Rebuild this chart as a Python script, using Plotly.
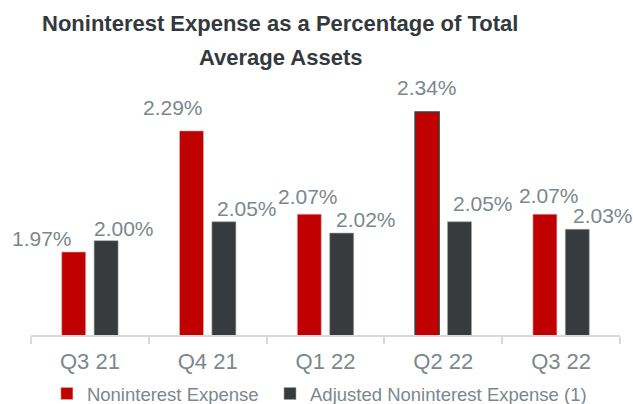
import plotly.graph_objects as go

quarters = ["Q3 21", "Q4 21", "Q1 22", "Q2 22", "Q3 22"]
nonint_expense = [1.97, 2.29, 2.07, 2.34, 2.07]
adj_nonint_expense = [2.00, 2.05, 2.02, 2.05, 2.03]

RED = "#C00000"
DARK = "#373B3E"
LABEL_GRAY = "#7C878E"
TITLE_GRAY = "#33393C"
FONT = "Liberation Sans, Arial, sans-serif"

# label placement (pixel offsets from category centre / bar top)
red_dx = [-48, -35, -18, -16, -12]
red_dy = [0, 10, 4, 11, 5]
gray_dx = [34, 39, 40, 40, 42]
gray_dy = [-1, 0, 0, 5, 0]

fig = go.Figure()
fig.add_trace(go.Bar(
    x=quarters, y=nonint_expense, name="Noninterest Expense", legend="legend",
    marker=dict(color=RED,
                line=dict(color=["#E8B0B0", "#E8B0B0", "#E8B0B0", "#3A3A3A", "#E8B0B0"],
                          width=[0.6, 0.6, 0.6, 1.5, 0.6])),
))
fig.add_trace(go.Bar(
    x=quarters, y=adj_nonint_expense, name="Adjusted Noninterest Expense (1)", legend="legend2",
    marker=dict(color=DARK, line=dict(color="#A0A4A6", width=0.6)),
))

for i, q in enumerate(quarters):
    fig.add_annotation(x=q, y=nonint_expense[i], text=f"{nonint_expense[i]:.2f}%",
                       showarrow=False, xshift=red_dx[i], yshift=red_dy[i],
                       yanchor="bottom", font=dict(size=21, color=LABEL_GRAY, family=FONT))
    fig.add_annotation(x=q, y=adj_nonint_expense[i], text=f"{adj_nonint_expense[i]:.2f}%",
                       showarrow=False, xshift=gray_dx[i], yshift=gray_dy[i],
                       yanchor="bottom", font=dict(size=21, color=LABEL_GRAY, family=FONT))

# two-line chart heading
title_lines = ["Noninterest Expense as a Percentage of Total", "Average Assets"]
for line, ypos in zip(title_lines, [1.1736, 1.0453]):
    fig.add_annotation(xref="paper", yref="paper", x=0.4228, y=ypos, text=f"<b>{line}</b>",
                       showarrow=False, xanchor="center", yanchor="middle",
                       font=dict(size=22, color=TITLE_GRAY, family=FONT))

legend_style = dict(orientation="h", xanchor="left", y=-0.2226, yanchor="middle",
                    font=dict(size=18.5, color=LABEL_GRAY, family=FONT),
                    itemwidth=30, bgcolor="rgba(0,0,0,0)")

fig.update_layout(
    width=633, height=404,
    margin=dict(l=31, r=13, t=70, b=69, autoexpand=False),
    paper_bgcolor="white", plot_bgcolor="white",
    barmode="group", bargap=0.45, bargroupgap=0.26,
    font=dict(family=FONT),
    showlegend=True,
    legend=dict(x=0.027, **legend_style),
    legend2=dict(x=0.4058, **legend_style),
    xaxis=dict(range=[-0.5, 4.5], automargin=False, showline=True, linecolor="#D9D9D9", linewidth=2,
               ticks="outside", tickson="boundaries", ticklen=7, tickcolor="#D9D9D9", tickwidth=2,
               ticklabelstandoff=6,
               tickfont=dict(size=22, color=LABEL_GRAY, family=FONT), showgrid=False),
    yaxis=dict(range=[1.7507, 2.451], automargin=False, visible=False, showgrid=False),
)

fig.write_html("out.html")
